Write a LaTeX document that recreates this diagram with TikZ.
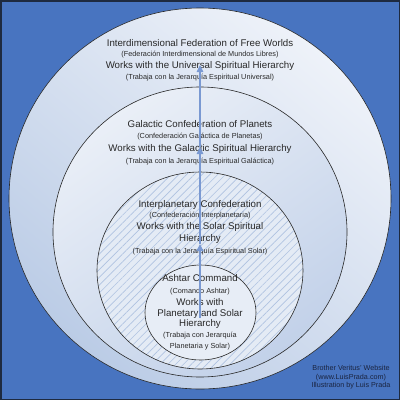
\documentclass[tikz,border=0pt]{standalone}
\usepackage{fontspec}
\setmainfont{Liberation Sans}
\usetikzlibrary{arrows.meta,patterns.meta}
\definecolor{bgblue}{RGB}{72,116,192}
\definecolor{framec}{RGB}{30,42,64}
\definecolor{outl}{RGB}{40,40,40}
\definecolor{lightA}{RGB}{238,242,249}
\definecolor{darkA}{RGB}{187,204,230}
\definecolor{lightB}{RGB}{234,239,247}
\definecolor{darkB}{RGB}{194,209,233}
\definecolor{hatchbase}{RGB}{228,235,245}
\definecolor{hatchline}{RGB}{176,195,225}
\definecolor{ashfill}{RGB}{231,237,246}
\definecolor{arrowc}{RGB}{122,153,210}
\definecolor{txt}{RGB}{40,40,40}
\definecolor{credit}{RGB}{26,36,64}
\tikzset{
  big/.style={anchor=base,inner sep=0pt,text=txt,font=\fontsize{9.7}{11}\selectfont},
  small/.style={anchor=base,inner sep=0pt,text=txt,font=\fontsize{7.3}{9}\selectfont},
  cred/.style={anchor=base,inner sep=0pt,text=credit,font=\fontsize{7.2}{8}\selectfont},
  ring/.style={draw=outl,line width=0.6pt},
  uparrow/.style={draw=arrowc,line width=1.2pt,-{Triangle[length=7pt,width=6.5pt]}}
}
\begin{document}
\begin{tikzpicture}[x=1pt,y=-1pt]
\useasboundingbox (0,0) rectangle (400,400);
\fill[bgblue] (0,0) rectangle (400,400);
\draw[framec,line width=1.5pt] (0.75,0.75) rectangle (399.25,399.25);
% outer circle
\shade[top color=lightA,bottom color=darkA,shading angle=-40] (200,198.5) ellipse [x radius=191pt,y radius=190.5pt];
\draw[ring] (200,198.5) ellipse [x radius=191pt,y radius=190.5pt];
% galactic circle
\shade[top color=lightB,bottom color=darkB,shading angle=35] (200,232) ellipse [x radius=147pt,y radius=145pt];
\draw[ring] (200,232) ellipse [x radius=147pt,y radius=145pt];
% interplanetary circle (hatched)
\fill[hatchbase] (200,270.5) ellipse [x radius=103pt,y radius=98.5pt];
\fill[pattern={Lines[angle=45,distance=5.5pt,line width=0.65pt]},pattern color=hatchline] (200,270.5) ellipse [x radius=103pt,y radius=98.5pt];
\draw[ring] (200,270.5) ellipse [x radius=103pt,y radius=98.5pt];
% ashtar circle
\fill[ashfill] (200.5,312.5) ellipse [x radius=55.5pt,y radius=47.5pt];
\draw[ring] (200.5,312.5) ellipse [x radius=55.5pt,y radius=47.5pt];
% arrows
\coordinate (a0) at (200,318);
\coordinate (a1) at (200,244);
\coordinate (a2) at (200,147);
\coordinate (a3) at (200,65);
% block 1
\node[big]   (t1a) at (200,46.2) {Interdimensional Federation of Free Worlds};
\node[small] (t1b) at (200,56.9) {(Federación Interdimensional de Mundos Libres)};
\node[big]   (t1c) at (200,68.8) {Works with the Universal Spiritual Hierarchy};
\node[small] (t1d) at (200,79.9) {(Trabaja con la Jerarquía Espiritual Universal)};
% block 2
\node[big]   (t2a) at (200,127.5) {Galactic Confederation of Planets};
\node[small] (t2b) at (200,138.3) {(Confederación Galáctica de Planetas)};
\node[big]   (t2c) at (200,151.2) {Works with the Galactic Spiritual Hierarchy};
\node[small] (t2d) at (200,163.3) {(Trabaja con la Jerarquía Espiritual Galáctica)};
% block 3
\node[big]   (t3a) at (200,207.5) {Interplanetary Confederation};
\node[small] (t3b) at (200,217.6) {(Confederación Interplanetaria)};
\node[big]   (t3c) at (200,229.5) {Works with the Solar Spiritual};
\node[big]   (t3d) at (200,241.8) {Hierarchy};
\node[small] (t3e) at (200,253.3) {(Trabaja con la Jerarquía Espiritual Solar)};
% block 4
\node[big]   (t4a) at (200,281.2) {Ashtar Command};
\node[small] (t4b) at (200,293.6) {(Comando Ashtar)};
\node[big]   (t4c) at (200,305.2) {Works with};
\node[big]   (t4d) at (200,316.2) {Planetary and Solar};
\node[big]   (t4e) at (200,326.8) {Hierarchy};
\node[small] (t4f) at (200,337.6) {(Trabaja con Jerarquía};
\node[small] (t4g) at (200,348.6) {Planetaria y Solar)};
% arrows on top
\draw[uparrow] (a0) -- (a1);
\draw[uparrow] (a1) -- (a2);
\draw[uparrow] (a2) -- (a3);
% credits
\node[cred] (c1) at (351,370.9) {Brother Veritus' Website};
\node[cred] (c2) at (351,379.3) {(www.LuisPrada.com)};
\node[cred] (c3) at (351,387.6) {Illustration by Luis Prada};
\end{tikzpicture}
\end{document}
